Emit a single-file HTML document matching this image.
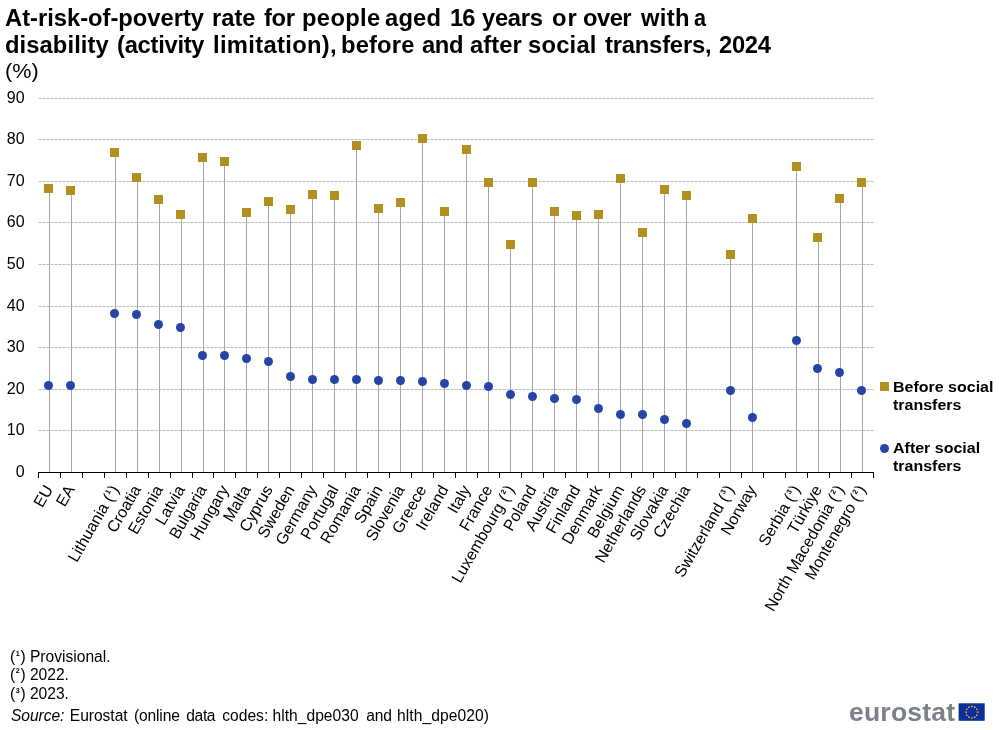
<!DOCTYPE html>
<html><head><meta charset="utf-8"><title>chart</title>
<style>
html,body{margin:0;padding:0;background:#fff;}
body{will-change:transform;width:1001px;height:730px;position:relative;overflow:hidden;font-family:"Liberation Sans",sans-serif;color:#000;}
svg{position:absolute;left:0;top:0;}
svg text{font-family:"Liberation Sans",sans-serif;}
.t{position:absolute;white-space:nowrap;}
.ttl{font-size:23.3px;font-weight:bold;line-height:1.117em;transform:scaleX(1.02);transform-origin:0 0;}
#unit{transform:scaleX(1.03);transform-origin:0 0;left:4.5px;top:58.5px;font-size:21px;line-height:1.117em;}
.leg{left:893px;font-size:15.5px;font-weight:bold;line-height:18px;transform:scaleX(1.032);transform-origin:0 0;}
.fn{font-size:15.6px;line-height:1.117em;}
.sp{display:inline-block;width:5.2px;font-size:7.1px;font-weight:bold;text-align:center;position:relative;top:-6.1px;line-height:1px;}
#logo{left:849px;top:696.6px;font-size:26.5px;font-weight:bold;color:#7C808B;line-height:30px;letter-spacing:0.22px;}
</style></head><body>
<svg width="1001" height="730" viewBox="0 0 1001 730">
<line x1="38.55" x2="874" y1="430.5" y2="430.5" stroke="#A6A6A6" stroke-width="0.75" stroke-dasharray="3 1"/>
<line x1="38.55" x2="874" y1="389.5" y2="389.5" stroke="#A6A6A6" stroke-width="0.75" stroke-dasharray="3 1"/>
<line x1="38.55" x2="874" y1="347.5" y2="347.5" stroke="#A6A6A6" stroke-width="0.75" stroke-dasharray="3 1"/>
<line x1="38.55" x2="874" y1="306.5" y2="306.5" stroke="#A6A6A6" stroke-width="0.75" stroke-dasharray="3 1"/>
<line x1="38.55" x2="874" y1="264.5" y2="264.5" stroke="#A6A6A6" stroke-width="0.75" stroke-dasharray="3 1"/>
<line x1="38.55" x2="874" y1="222.5" y2="222.5" stroke="#A6A6A6" stroke-width="0.75" stroke-dasharray="3 1"/>
<line x1="38.55" x2="874" y1="181.5" y2="181.5" stroke="#A6A6A6" stroke-width="0.75" stroke-dasharray="3 1"/>
<line x1="38.55" x2="874" y1="139.5" y2="139.5" stroke="#A6A6A6" stroke-width="0.75" stroke-dasharray="3 1"/>
<line x1="38.55" x2="874" y1="98.5" y2="98.5" stroke="#A6A6A6" stroke-width="0.75" stroke-dasharray="3 1"/>
<line x1="49.5" x2="49.5" y1="188" y2="472" stroke="#A6A6A6" stroke-width="1"/>
<line x1="71.5" x2="71.5" y1="190" y2="472" stroke="#A6A6A6" stroke-width="1"/>
<line x1="115.5" x2="115.5" y1="152" y2="472" stroke="#A6A6A6" stroke-width="1"/>
<line x1="137.5" x2="137.5" y1="177" y2="472" stroke="#A6A6A6" stroke-width="1"/>
<line x1="159.5" x2="159.5" y1="199" y2="472" stroke="#A6A6A6" stroke-width="1"/>
<line x1="181.5" x2="181.5" y1="214" y2="472" stroke="#A6A6A6" stroke-width="1"/>
<line x1="203.5" x2="203.5" y1="157" y2="472" stroke="#A6A6A6" stroke-width="1"/>
<line x1="224.5" x2="224.5" y1="161" y2="472" stroke="#A6A6A6" stroke-width="1"/>
<line x1="246.5" x2="246.5" y1="212" y2="472" stroke="#A6A6A6" stroke-width="1"/>
<line x1="268.5" x2="268.5" y1="201" y2="472" stroke="#A6A6A6" stroke-width="1"/>
<line x1="290.5" x2="290.5" y1="209" y2="472" stroke="#A6A6A6" stroke-width="1"/>
<line x1="312.5" x2="312.5" y1="194" y2="472" stroke="#A6A6A6" stroke-width="1"/>
<line x1="334.5" x2="334.5" y1="195" y2="472" stroke="#A6A6A6" stroke-width="1"/>
<line x1="356.5" x2="356.5" y1="145" y2="472" stroke="#A6A6A6" stroke-width="1"/>
<line x1="378.5" x2="378.5" y1="208" y2="472" stroke="#A6A6A6" stroke-width="1"/>
<line x1="400.5" x2="400.5" y1="202" y2="472" stroke="#A6A6A6" stroke-width="1"/>
<line x1="422.5" x2="422.5" y1="138" y2="472" stroke="#A6A6A6" stroke-width="1"/>
<line x1="444.5" x2="444.5" y1="211" y2="472" stroke="#A6A6A6" stroke-width="1"/>
<line x1="466.5" x2="466.5" y1="149" y2="472" stroke="#A6A6A6" stroke-width="1"/>
<line x1="488.5" x2="488.5" y1="182" y2="472" stroke="#A6A6A6" stroke-width="1"/>
<line x1="510.5" x2="510.5" y1="244" y2="472" stroke="#A6A6A6" stroke-width="1"/>
<line x1="532.5" x2="532.5" y1="182" y2="472" stroke="#A6A6A6" stroke-width="1"/>
<line x1="554.5" x2="554.5" y1="211" y2="472" stroke="#A6A6A6" stroke-width="1"/>
<line x1="576.5" x2="576.5" y1="215" y2="472" stroke="#A6A6A6" stroke-width="1"/>
<line x1="598.5" x2="598.5" y1="214" y2="472" stroke="#A6A6A6" stroke-width="1"/>
<line x1="620.5" x2="620.5" y1="178" y2="472" stroke="#A6A6A6" stroke-width="1"/>
<line x1="642.5" x2="642.5" y1="232" y2="472" stroke="#A6A6A6" stroke-width="1"/>
<line x1="664.5" x2="664.5" y1="189" y2="472" stroke="#A6A6A6" stroke-width="1"/>
<line x1="686.5" x2="686.5" y1="195" y2="472" stroke="#A6A6A6" stroke-width="1"/>
<line x1="730.5" x2="730.5" y1="254" y2="472" stroke="#A6A6A6" stroke-width="1"/>
<line x1="752.5" x2="752.5" y1="218" y2="472" stroke="#A6A6A6" stroke-width="1"/>
<line x1="796.5" x2="796.5" y1="166" y2="472" stroke="#A6A6A6" stroke-width="1"/>
<line x1="818.5" x2="818.5" y1="237" y2="472" stroke="#A6A6A6" stroke-width="1"/>
<line x1="840.5" x2="840.5" y1="198" y2="472" stroke="#A6A6A6" stroke-width="1"/>
<line x1="862.5" x2="862.5" y1="182" y2="472" stroke="#A6A6A6" stroke-width="1"/>
<line x1="38" x2="874" y1="472.5" y2="472.5" stroke="#000" stroke-width="1"/>
<line x1="38.5" x2="38.5" y1="472" y2="478" stroke="#000" stroke-width="1"/>
<line x1="60.5" x2="60.5" y1="472" y2="478" stroke="#000" stroke-width="1"/>
<line x1="82.5" x2="82.5" y1="472" y2="478" stroke="#000" stroke-width="1"/>
<line x1="104.5" x2="104.5" y1="472" y2="478" stroke="#000" stroke-width="1"/>
<line x1="126.5" x2="126.5" y1="472" y2="478" stroke="#000" stroke-width="1"/>
<line x1="148.5" x2="148.5" y1="472" y2="478" stroke="#000" stroke-width="1"/>
<line x1="170.5" x2="170.5" y1="472" y2="478" stroke="#000" stroke-width="1"/>
<line x1="192.5" x2="192.5" y1="472" y2="478" stroke="#000" stroke-width="1"/>
<line x1="213.5" x2="213.5" y1="472" y2="478" stroke="#000" stroke-width="1"/>
<line x1="235.5" x2="235.5" y1="472" y2="478" stroke="#000" stroke-width="1"/>
<line x1="257.5" x2="257.5" y1="472" y2="478" stroke="#000" stroke-width="1"/>
<line x1="279.5" x2="279.5" y1="472" y2="478" stroke="#000" stroke-width="1"/>
<line x1="301.5" x2="301.5" y1="472" y2="478" stroke="#000" stroke-width="1"/>
<line x1="323.5" x2="323.5" y1="472" y2="478" stroke="#000" stroke-width="1"/>
<line x1="345.5" x2="345.5" y1="472" y2="478" stroke="#000" stroke-width="1"/>
<line x1="367.5" x2="367.5" y1="472" y2="478" stroke="#000" stroke-width="1"/>
<line x1="389.5" x2="389.5" y1="472" y2="478" stroke="#000" stroke-width="1"/>
<line x1="411.5" x2="411.5" y1="472" y2="478" stroke="#000" stroke-width="1"/>
<line x1="433.5" x2="433.5" y1="472" y2="478" stroke="#000" stroke-width="1"/>
<line x1="455.5" x2="455.5" y1="472" y2="478" stroke="#000" stroke-width="1"/>
<line x1="477.5" x2="477.5" y1="472" y2="478" stroke="#000" stroke-width="1"/>
<line x1="499.5" x2="499.5" y1="472" y2="478" stroke="#000" stroke-width="1"/>
<line x1="521.5" x2="521.5" y1="472" y2="478" stroke="#000" stroke-width="1"/>
<line x1="543.5" x2="543.5" y1="472" y2="478" stroke="#000" stroke-width="1"/>
<line x1="565.5" x2="565.5" y1="472" y2="478" stroke="#000" stroke-width="1"/>
<line x1="587.5" x2="587.5" y1="472" y2="478" stroke="#000" stroke-width="1"/>
<line x1="609.5" x2="609.5" y1="472" y2="478" stroke="#000" stroke-width="1"/>
<line x1="631.5" x2="631.5" y1="472" y2="478" stroke="#000" stroke-width="1"/>
<line x1="653.5" x2="653.5" y1="472" y2="478" stroke="#000" stroke-width="1"/>
<line x1="675.5" x2="675.5" y1="472" y2="478" stroke="#000" stroke-width="1"/>
<line x1="697.5" x2="697.5" y1="472" y2="478" stroke="#000" stroke-width="1"/>
<line x1="719.5" x2="719.5" y1="472" y2="478" stroke="#000" stroke-width="1"/>
<line x1="741.5" x2="741.5" y1="472" y2="478" stroke="#000" stroke-width="1"/>
<line x1="763.5" x2="763.5" y1="472" y2="478" stroke="#000" stroke-width="1"/>
<line x1="785.5" x2="785.5" y1="472" y2="478" stroke="#000" stroke-width="1"/>
<line x1="807.5" x2="807.5" y1="472" y2="478" stroke="#000" stroke-width="1"/>
<line x1="829.5" x2="829.5" y1="472" y2="478" stroke="#000" stroke-width="1"/>
<line x1="851.5" x2="851.5" y1="472" y2="478" stroke="#000" stroke-width="1"/>
<line x1="873.5" x2="873.5" y1="472" y2="478" stroke="#000" stroke-width="1"/>
<rect x="44" y="184" width="9" height="9" fill="#B09120"/>
<circle cx="48.5" cy="385.5" r="4.5" fill="#2644A7"/>
<rect x="66" y="186" width="9" height="9" fill="#B09120"/>
<circle cx="70.5" cy="385.5" r="4.5" fill="#2644A7"/>
<rect x="110" y="148" width="9" height="9" fill="#B09120"/>
<circle cx="114.5" cy="313.5" r="4.5" fill="#2644A7"/>
<rect x="132" y="173" width="9" height="9" fill="#B09120"/>
<circle cx="136.5" cy="314.5" r="4.5" fill="#2644A7"/>
<rect x="154" y="195" width="9" height="9" fill="#B09120"/>
<circle cx="158.5" cy="324.5" r="4.5" fill="#2644A7"/>
<rect x="176" y="210" width="9" height="9" fill="#B09120"/>
<circle cx="180.5" cy="327.5" r="4.5" fill="#2644A7"/>
<rect x="198" y="153" width="9" height="9" fill="#B09120"/>
<circle cx="202.5" cy="355.5" r="4.5" fill="#2644A7"/>
<rect x="220" y="157" width="9" height="9" fill="#B09120"/>
<circle cx="224.5" cy="355.5" r="4.5" fill="#2644A7"/>
<rect x="242" y="208" width="9" height="9" fill="#B09120"/>
<circle cx="246.5" cy="358.5" r="4.5" fill="#2644A7"/>
<rect x="264" y="197" width="9" height="9" fill="#B09120"/>
<circle cx="268.5" cy="361.5" r="4.5" fill="#2644A7"/>
<rect x="286" y="205" width="9" height="9" fill="#B09120"/>
<circle cx="290.5" cy="376.5" r="4.5" fill="#2644A7"/>
<rect x="308" y="190" width="9" height="9" fill="#B09120"/>
<circle cx="312.5" cy="379.5" r="4.5" fill="#2644A7"/>
<rect x="330" y="191" width="9" height="9" fill="#B09120"/>
<circle cx="334.5" cy="379.5" r="4.5" fill="#2644A7"/>
<rect x="352" y="141" width="9" height="9" fill="#B09120"/>
<circle cx="356.5" cy="379.5" r="4.5" fill="#2644A7"/>
<rect x="374" y="204" width="9" height="9" fill="#B09120"/>
<circle cx="378.5" cy="380.5" r="4.5" fill="#2644A7"/>
<rect x="396" y="198" width="9" height="9" fill="#B09120"/>
<circle cx="400.5" cy="380.5" r="4.5" fill="#2644A7"/>
<rect x="418" y="134" width="9" height="9" fill="#B09120"/>
<circle cx="422.5" cy="381.5" r="4.5" fill="#2644A7"/>
<rect x="440" y="207" width="9" height="9" fill="#B09120"/>
<circle cx="444.5" cy="383.5" r="4.5" fill="#2644A7"/>
<rect x="462" y="145" width="9" height="9" fill="#B09120"/>
<circle cx="466.5" cy="385.5" r="4.5" fill="#2644A7"/>
<rect x="484" y="178" width="9" height="9" fill="#B09120"/>
<circle cx="488.5" cy="386.5" r="4.5" fill="#2644A7"/>
<rect x="506" y="240" width="9" height="9" fill="#B09120"/>
<circle cx="510.5" cy="394.5" r="4.5" fill="#2644A7"/>
<rect x="528" y="178" width="9" height="9" fill="#B09120"/>
<circle cx="532.5" cy="396.5" r="4.5" fill="#2644A7"/>
<rect x="550" y="207" width="9" height="9" fill="#B09120"/>
<circle cx="554.5" cy="398.5" r="4.5" fill="#2644A7"/>
<rect x="572" y="211" width="9" height="9" fill="#B09120"/>
<circle cx="576.5" cy="399.5" r="4.5" fill="#2644A7"/>
<rect x="594" y="210" width="9" height="9" fill="#B09120"/>
<circle cx="598.5" cy="408.5" r="4.5" fill="#2644A7"/>
<rect x="616" y="174" width="9" height="9" fill="#B09120"/>
<circle cx="620.5" cy="414.5" r="4.5" fill="#2644A7"/>
<rect x="638" y="228" width="9" height="9" fill="#B09120"/>
<circle cx="642.5" cy="414.5" r="4.5" fill="#2644A7"/>
<rect x="660" y="185" width="9" height="9" fill="#B09120"/>
<circle cx="664.5" cy="419.5" r="4.5" fill="#2644A7"/>
<rect x="682" y="191" width="9" height="9" fill="#B09120"/>
<circle cx="686.5" cy="423.5" r="4.5" fill="#2644A7"/>
<rect x="726" y="250" width="9" height="9" fill="#B09120"/>
<circle cx="730.5" cy="390.5" r="4.5" fill="#2644A7"/>
<rect x="748" y="214" width="9" height="9" fill="#B09120"/>
<circle cx="752.5" cy="417.5" r="4.5" fill="#2644A7"/>
<rect x="792" y="162" width="9" height="9" fill="#B09120"/>
<circle cx="796.5" cy="340.5" r="4.5" fill="#2644A7"/>
<rect x="813" y="233" width="9" height="9" fill="#B09120"/>
<circle cx="817.5" cy="368.5" r="4.5" fill="#2644A7"/>
<rect x="835" y="194" width="9" height="9" fill="#B09120"/>
<circle cx="839.5" cy="372.5" r="4.5" fill="#2644A7"/>
<rect x="857" y="178" width="9" height="9" fill="#B09120"/>
<circle cx="861.5" cy="390.5" r="4.5" fill="#2644A7"/>
<rect x="880" y="382" width="9" height="9" fill="#B09120"/>
<circle cx="884.5" cy="448.5" r="4.5" fill="#2644A7"/>
<text transform="translate(53.49,489.2) rotate(-60)" text-anchor="end" font-size="16" fill="#000">EU</text>
<text transform="translate(75.46,489.2) rotate(-60)" text-anchor="end" font-size="16" fill="#000">EA</text>
<text transform="translate(119.41,489.2) rotate(-60)" text-anchor="end" font-size="16" fill="#000">Lithuania (<tspan dx="0.65" dy="-6.2" font-size="7.3" font-weight="bold">1</tspan><tspan dx="0.65" dy="6.2">)</tspan></text>
<text transform="translate(141.38,489.2) rotate(-60)" text-anchor="end" font-size="16" fill="#000">Croatia</text>
<text transform="translate(163.36,489.2) rotate(-60)" text-anchor="end" font-size="16" fill="#000">Estonia</text>
<text transform="translate(185.33,489.2) rotate(-60)" text-anchor="end" font-size="16" fill="#000">Latvia</text>
<text transform="translate(207.30,489.2) rotate(-60)" text-anchor="end" font-size="16" fill="#000">Bulgaria</text>
<text transform="translate(229.28,489.2) rotate(-60)" text-anchor="end" font-size="16" fill="#000">Hungary</text>
<text transform="translate(251.25,489.2) rotate(-60)" text-anchor="end" font-size="16" fill="#000">Malta</text>
<text transform="translate(273.22,489.2) rotate(-60)" text-anchor="end" font-size="16" fill="#000">Cyprus</text>
<text transform="translate(295.20,489.2) rotate(-60)" text-anchor="end" font-size="16" fill="#000">Sweden</text>
<text transform="translate(317.17,489.2) rotate(-60)" text-anchor="end" font-size="16" fill="#000">Germany</text>
<text transform="translate(339.14,489.2) rotate(-60)" text-anchor="end" font-size="16" fill="#000">Portugal</text>
<text transform="translate(361.12,489.2) rotate(-60)" text-anchor="end" font-size="16" fill="#000">Romania</text>
<text transform="translate(383.09,489.2) rotate(-60)" text-anchor="end" font-size="16" fill="#000">Spain</text>
<text transform="translate(405.07,489.2) rotate(-60)" text-anchor="end" font-size="16" fill="#000">Slovenia</text>
<text transform="translate(427.04,489.2) rotate(-60)" text-anchor="end" font-size="16" fill="#000">Greece</text>
<text transform="translate(449.01,489.2) rotate(-60)" text-anchor="end" font-size="16" fill="#000">Ireland</text>
<text transform="translate(470.99,489.2) rotate(-60)" text-anchor="end" font-size="16" fill="#000">Italy</text>
<text transform="translate(492.96,489.2) rotate(-60)" text-anchor="end" font-size="16" fill="#000">France</text>
<text transform="translate(514.93,489.2) rotate(-60)" text-anchor="end" font-size="16" fill="#000">Luxembourg (<tspan dx="0.65" dy="-6.2" font-size="7.3" font-weight="bold">2</tspan><tspan dx="0.65" dy="6.2">)</tspan></text>
<text transform="translate(536.91,489.2) rotate(-60)" text-anchor="end" font-size="16" fill="#000">Poland</text>
<text transform="translate(558.88,489.2) rotate(-60)" text-anchor="end" font-size="16" fill="#000">Austria</text>
<text transform="translate(580.86,489.2) rotate(-60)" text-anchor="end" font-size="16" fill="#000">Finland</text>
<text transform="translate(602.83,489.2) rotate(-60)" text-anchor="end" font-size="16" fill="#000">Denmark</text>
<text transform="translate(624.80,489.2) rotate(-60)" text-anchor="end" font-size="16" fill="#000">Belgium</text>
<text transform="translate(646.78,489.2) rotate(-60)" text-anchor="end" font-size="16" fill="#000">Netherlands</text>
<text transform="translate(668.75,489.2) rotate(-60)" text-anchor="end" font-size="16" fill="#000">Slovakia</text>
<text transform="translate(690.72,489.2) rotate(-60)" text-anchor="end" font-size="16" fill="#000">Czechia</text>
<text transform="translate(734.67,489.2) rotate(-60)" text-anchor="end" font-size="16" fill="#000">Switzerland (<tspan dx="0.65" dy="-6.2" font-size="7.3" font-weight="bold">3</tspan><tspan dx="0.65" dy="6.2">)</tspan></text>
<text transform="translate(756.64,489.2) rotate(-60)" text-anchor="end" font-size="16" fill="#000">Norway</text>
<text transform="translate(800.59,489.2) rotate(-60)" text-anchor="end" font-size="16" fill="#000">Serbia (<tspan dx="0.65" dy="-6.2" font-size="7.3" font-weight="bold">3</tspan><tspan dx="0.65" dy="6.2">)</tspan></text>
<text transform="translate(822.57,489.2) rotate(-60)" text-anchor="end" font-size="16" fill="#000">Türkiye</text>
<text transform="translate(844.54,489.2) rotate(-60)" text-anchor="end" font-size="16" fill="#000">North Macedonia (<tspan dx="0.65" dy="-6.2" font-size="7.3" font-weight="bold">2</tspan><tspan dx="0.65" dy="6.2">)</tspan></text>
<text transform="translate(866.51,489.2) rotate(-60)" text-anchor="end" font-size="16" fill="#000">Montenegro (<tspan dx="0.65" dy="-6.2" font-size="7.3" font-weight="bold">2</tspan><tspan dx="0.65" dy="6.2">)</tspan></text>
<text x="24.6" y="476.80" text-anchor="end" font-size="16" fill="#000">0</text>
<text x="24.6" y="434.80" text-anchor="end" font-size="16" fill="#000">10</text>
<text x="24.6" y="393.80" text-anchor="end" font-size="16" fill="#000">20</text>
<text x="24.6" y="351.80" text-anchor="end" font-size="16" fill="#000">30</text>
<text x="24.6" y="310.80" text-anchor="end" font-size="16" fill="#000">40</text>
<text x="24.6" y="268.80" text-anchor="end" font-size="16" fill="#000">50</text>
<text x="24.6" y="226.80" text-anchor="end" font-size="16" fill="#000">60</text>
<text x="24.6" y="185.80" text-anchor="end" font-size="16" fill="#000">70</text>
<text x="24.6" y="143.80" text-anchor="end" font-size="16" fill="#000">80</text>
<text x="24.6" y="102.80" text-anchor="end" font-size="16" fill="#000">90</text>
<rect x="958.6" y="703.3" width="26.1" height="17.5" fill="#0B2E9B"/>
<circle cx="971.80" cy="706.40" r="0.85" fill="#E6BC2E"/>
<circle cx="974.70" cy="707.18" r="0.85" fill="#E6BC2E"/>
<circle cx="976.82" cy="709.30" r="0.85" fill="#E6BC2E"/>
<circle cx="977.60" cy="712.20" r="0.85" fill="#E6BC2E"/>
<circle cx="976.82" cy="715.10" r="0.85" fill="#E6BC2E"/>
<circle cx="974.70" cy="717.22" r="0.85" fill="#E6BC2E"/>
<circle cx="971.80" cy="718.00" r="0.85" fill="#E6BC2E"/>
<circle cx="968.90" cy="717.22" r="0.85" fill="#E6BC2E"/>
<circle cx="966.78" cy="715.10" r="0.85" fill="#E6BC2E"/>
<circle cx="966.00" cy="712.20" r="0.85" fill="#E6BC2E"/>
<circle cx="966.78" cy="709.30" r="0.85" fill="#E6BC2E"/>
<circle cx="968.90" cy="707.18" r="0.85" fill="#E6BC2E"/>
</svg>
<span class="t ttl" id="t1_0" style="left:4.87px;top:4.81px;letter-spacing:-0.016px">At-risk-of-poverty</span>
<span class="t ttl" id="t1_1" style="left:212.48px;top:4.81px;letter-spacing:-0.009px">rate</span>
<span class="t ttl" id="t1_2" style="left:263.82px;top:4.81px;letter-spacing:-0.287px">for</span>
<span class="t ttl" id="t1_3" style="left:301.60px;top:4.81px;letter-spacing:0.327px">people</span>
<span class="t ttl" id="t1_4" style="left:384.90px;top:4.81px;letter-spacing:0.187px">aged</span>
<span class="t ttl" id="t1_5" style="left:449.54px;top:4.81px;letter-spacing:-0.930px">16</span>
<span class="t ttl" id="t1_6" style="left:482.37px;top:4.81px;letter-spacing:-0.292px">years</span>
<span class="t ttl" id="t1_7" style="left:552.02px;top:4.81px;letter-spacing:0.883px">or</span>
<span class="t ttl" id="t1_8" style="left:583.00px;top:4.81px;letter-spacing:-0.517px">over</span>
<span class="t ttl" id="t1_9" style="left:640.85px;top:4.81px;letter-spacing:0.300px">with</span>
<span class="t ttl" id="t1_10" style="left:694.08px;top:4.81px;transform:scaleX(0.93)">a</span>
<span class="t ttl" id="t2_0" style="left:4.97px;top:31.71px;letter-spacing:0.078px">disability</span>
<span class="t ttl" id="t2_1" style="left:116.54px;top:31.71px;letter-spacing:-0.274px">(activity</span>
<span class="t ttl" id="t2_2" style="left:213.17px;top:31.71px;letter-spacing:0.315px">limitation),</span>
<span class="t ttl" id="t2_3" style="left:341.01px;top:31.71px;letter-spacing:0.152px">before</span>
<span class="t ttl" id="t2_4" style="left:421.69px;top:31.71px;letter-spacing:-0.380px">and</span>
<span class="t ttl" id="t2_5" style="left:470.16px;top:31.71px;letter-spacing:0.037px">after</span>
<span class="t ttl" id="t2_6" style="left:528.39px;top:31.71px;letter-spacing:0.217px">social</span>
<span class="t ttl" id="t2_7" style="left:604.52px;top:31.71px;letter-spacing:-0.189px">transfers,</span>
<span class="t ttl" id="t2_8" style="left:719.00px;top:31.71px;letter-spacing:-0.332px">2024</span>
<span class="t fn" id="s_0" style="left:11.02px;top:707.08px;letter-spacing:-0.070px"><i>Source:</i></span>
<span class="t fn" id="s_1" style="left:69.87px;top:707.08px;letter-spacing:-0.045px">Eurostat</span>
<span class="t fn" id="s_2" style="left:133.90px;top:707.08px;letter-spacing:-0.133px">(online</span>
<span class="t fn" id="s_3" style="left:186.29px;top:707.08px;letter-spacing:-0.372px">data</span>
<span class="t fn" id="s_4" style="left:222.19px;top:707.08px;letter-spacing:0.023px">codes:</span>
<span class="t fn" id="s_5" style="left:272.49px;top:707.08px;letter-spacing:0.028px">hlth_dpe030</span>
<span class="t fn" id="s_6" style="left:366.15px;top:707.08px;letter-spacing:-0.128px">and</span>
<span class="t fn" id="s_7" style="left:397.00px;top:707.08px;letter-spacing:0.091px">hlth_dpe020)</span>
<div class="t" id="unit">(%)</div>
<div class="t leg" style="top:378.2px">Before social<br>transfers</div>
<div class="t leg" style="top:439.1px">After social<br>transfers</div>
<div class="t fn" style="left:10px;top:647.78px">(<span class="sp">1</span>) Provisional.</div>
<div class="t fn" style="left:10px;top:665.58px">(<span class="sp">2</span>) 2022.</div>
<div class="t fn" style="left:10px;top:685.08px">(<span class="sp">3</span>) 2023.</div>
<div class="t" id="logo">eurostat</div>
</body></html>
